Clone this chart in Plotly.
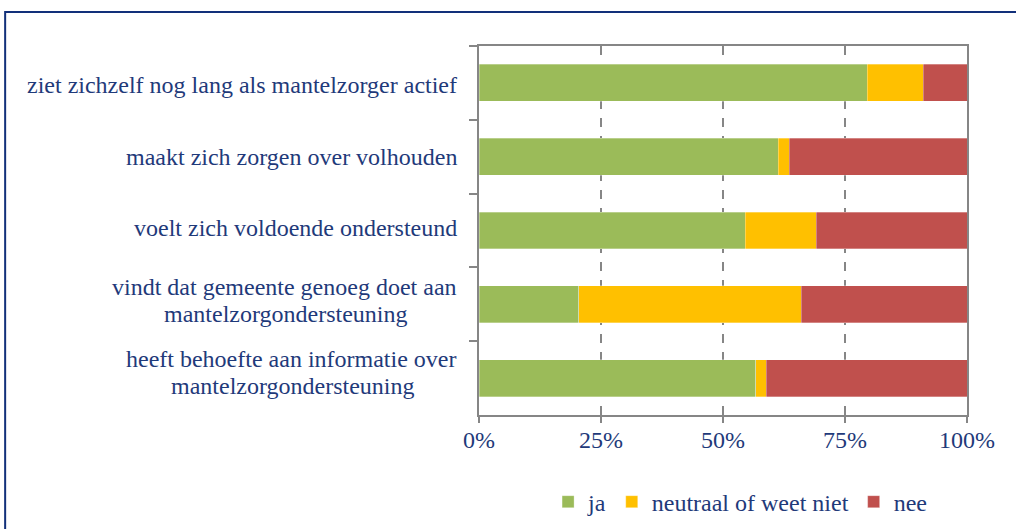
import plotly.graph_objects as go

categories = [
    "ziet zichzelf nog lang als mantelzorger actief",
    "maakt zich zorgen over volhouden",
    "voelt zich voldoende ondersteund",
    "vindt dat gemeente genoeg doet aan mantelzorgondersteuning",
    "heeft behoefte aan informatie over mantelzorgondersteuning",
]
label_lines = [
    ["ziet zichzelf nog lang als mantelzorger actief"],
    ["maakt zich zorgen over volhouden"],
    ["voelt zich voldoende ondersteund"],
    ["vindt dat gemeente genoeg doet aan", "mantelzorgondersteuning"],
    ["heeft behoefte aan informatie over", "mantelzorgondersteuning"],
]
ja = [79.6, 61.3, 54.6, 20.4, 56.7]
neutraal = [11.4, 2.3, 14.5, 45.6, 2.2]
nee = [9.0, 36.4, 30.9, 34.0, 41.1]
series_names = ["ja", "neutraal of weet niet", "nee"]
series_colors = ["#9BBB59", "#FFC000", "#C0504D"]
x_ticks = [0, 25, 50, 75, 100]
x_ticklabels = ["0%", "25%", "50%", "75%", "100%"]

# label placement tweaks (pixels)
label_yshift1 = [-2, 0, 3, 17, 19]
label_yshift2 = [0, 0, 0, -10, -8]
label_xshift2 = [0, 0, 0, -193, -186]

NAVY = "#1F3A7A"
GRAY = "#868686"
FONT = "Liberation Serif, Times New Roman, serif"

fig = go.Figure()
for name, vals, col in zip(series_names, [ja, neutraal, nee], series_colors):
    fig.add_trace(go.Bar(
        y=categories, x=vals, name=name, orientation="h",
        marker=dict(color=col, line=dict(color="rgba(255,255,255,0.6)", width=0.5)),
        width=0.5,
    ))

annotations = []
for i, (cat, lines) in enumerate(zip(categories, label_lines)):
    annotations.append(dict(xref="paper", yref="y", x=0, y=cat, text=lines[0],
                            xanchor="right", yanchor="middle", xshift=-20,
                            yshift=label_yshift1[i],
                            showarrow=False, font=dict(family=FONT, size=24, color=NAVY)))
    if len(lines) > 1:
        annotations.append(dict(xref="paper", yref="y", x=0, y=cat, text=lines[1],
                                xanchor="center", yanchor="middle",
                                xshift=label_xshift2[i], yshift=label_yshift2[i],
                                showarrow=False, font=dict(family=FONT, size=24, color=NAVY)))

fig.update_layout(
    width=1016, height=529,
    margin=dict(l=479, r=49, t=46, b=114, autoexpand=False),
    barmode="stack",
    bargap=0.5,
    plot_bgcolor="white", paper_bgcolor="white",
    font=dict(family=FONT, size=24, color=NAVY),
    xaxis=dict(range=[0, 100], tickmode="array", tickvals=x_ticks, ticktext=x_ticklabels,
               showline=True, linecolor=GRAY, linewidth=2, mirror=True,
               ticks="outside", ticklen=6, tickcolor=GRAY, tickwidth=2,
               ticklabelstandoff=-4,
               showgrid=True, gridcolor=GRAY, gridwidth=2, griddash="9px,9px",
               zeroline=False, tickfont=dict(family=FONT, size=24, color=NAVY)),
    yaxis=dict(categoryorder="array", categoryarray=categories, autorange="reversed",
               showticklabels=False, tickson="boundaries", ticks="outside", ticklen=8,
               tickcolor=GRAY, tickwidth=2,
               showline=True, linecolor=GRAY, linewidth=2, mirror=True,
               showgrid=False, zeroline=False),
    legend=dict(orientation="h", x=0.535, xanchor="center", y=-0.236, yanchor="middle",
                font=dict(family=FONT, size=24, color=NAVY), traceorder="normal"),
    annotations=annotations,
    shapes=[dict(type="rect", xref="paper", yref="paper",
                 x0=-0.971, x1=1.2, y0=-0.5, y1=1.092,
                 line=dict(color="#12307A", width=2), fillcolor="rgba(0,0,0,0)")],
)

fig.write_html("out.html", config={"displayModeBar": False},
               post_script="document.body.style.margin='0';document.body.style.overflow='hidden';")
